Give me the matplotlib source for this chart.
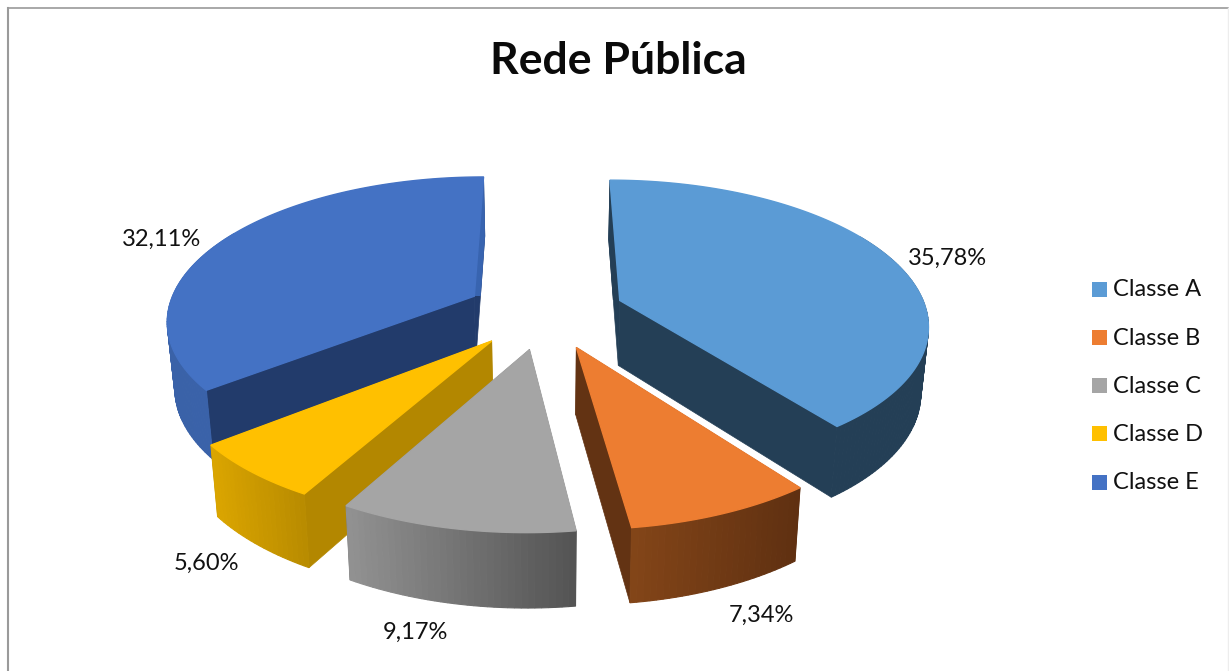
import numpy as np
import matplotlib as mpl
mpl.use('Agg')
import matplotlib.pyplot as plt
from matplotlib.colors import to_rgb
from matplotlib.patches import Rectangle

categories = ['Classe A', 'Classe B', 'Classe C', 'Classe D', 'Classe E']
values = [35.78, 7.34, 9.17, 5.60, 32.11]
value_labels = ['35,78%', '7,34%', '9,17%', '5,60%', '32,11%']
title = 'Rede Pública'

top_colors = ['#5B9BD5', '#ED7D31', '#A5A5A5', '#FFC000', '#4472C4']
wall_colors = ['#243F56', '#633313', '#5E5E5E', '#B38700', '#223B6B']
rim_left = ['#243F56', '#834518', '#929292', '#DBA500', '#3A62A8']
rim_right = ['#243F56', '#5F3011', '#535353', '#B88B00', '#3864B0']
label_pos = [(947, 258), (761, 615), (415, 632), (206, 563), (162, 239)]

# projection settings, in pixels
CX, CY = 545, 312
A, B = 307, 142
K = 0.153
EXPLODE = 0.26
THICK = 65.5


def project(x, z, down=0.0):
    s = 1 / (1 + K * z)
    px = CX + A * x * s
    py = CY - B * z * s
    # the lower face shrinks a little towards the middle
    return CX + (px - CX) * (1 - 0.02 * down), py + THICK * s ** 0.66 * down


def wedge_ring(start, end, mid, down=0.0):
    th = np.radians(np.linspace(start, end, max(int(end - start), 2)))
    m = np.radians(mid)
    return project(EXPLODE * np.sin(m) + np.sin(th), EXPLODE * np.cos(m) + np.cos(th), down)


def apex(mid, down=0.0):
    m = np.radians(mid)
    return project(EXPLODE * np.sin(m), EXPLODE * np.cos(m), down)


def mix(c1, c2, t):
    c1, c2 = np.array(to_rgb(c1)), np.array(to_rgb(c2))
    return tuple(c1 + (c2 - c1) * t)


def draw_slice(ax, i, start, end):
    mid = (start + end) / 2
    tx, ty = wedge_ring(start, end, mid)
    bx, by = wedge_ring(start, end, mid, 1.0)
    ax0, ay0 = apex(mid)
    ax1, ay1 = apex(mid, 1.0)

    # flat cut faces, the part behind the apex catches more light
    for j in (0, -1):
        qx, qy = [ax0, tx[j], bx[j], ax1], [ay0, ty[j], by[j], ay1]
        ax.fill(qx, qy, color=wall_colors[i], lw=0.5)
        back = ax.fill(qx, qy, color=rim_right[i], lw=0.5)[0]
        back.set_clip_path(Rectangle((0, 0), 1229, ay0, transform=ax.transData))

    # outer wall, one thin quad at a time so the shading runs left to right
    left, right = tx.min(), tx.max()
    for j in range(len(tx) - 1):
        if by[j] < ay0 and by[j + 1] < ay0:
            continue
        t = ((tx[j] + tx[j + 1]) / 2 - left) / (right - left)
        c = mix(rim_left[i], rim_right[i], t)
        ax.fill([tx[j], tx[j + 1], bx[j + 1], bx[j]],
                [ty[j], ty[j + 1], by[j + 1], by[j]], color=c, lw=0.8)

    ax.fill(np.r_[ax0, tx], np.r_[ay0, ty], color=top_colors[i], lw=1.0)


fig = plt.figure(figsize=(12.29, 6.71), dpi=100)
ax = fig.add_axes([0, 0, 1, 1])
ax.set_xlim(0, 1229)
ax.set_ylim(671, 0)
ax.axis('off')
plt.rcParams['font.family'] = ['Lato', 'DejaVu Sans']

# percentages are shown as printed, the angles use their share of the total
angles = np.array(values) / sum(values) * 360
edges = np.r_[0, np.cumsum(angles)]
for i in [4, 0, 3, 1, 2]:
    draw_slice(ax, i, edges[i], edges[i + 1])

ax.text(618, 61, title, fontsize=32, fontweight='bold', ha='center', va='center', color='#0A0A0A')

for txt, (x, y) in zip(value_labels, label_pos):
    ax.text(x, y, txt, fontsize=17, ha='center', va='center', color='#111111')

legend_y = np.linspace(289.5, 482, len(categories))
for name, col, y in zip(categories, top_colors, legend_y):
    ax.fill([1092, 1107, 1107, 1092], [y - 7.5, y - 7.5, y + 7.5, y + 7.5], color=col, lw=0)
    ax.text(1113, y + 0.5, name, fontsize=17, ha='left', va='center', color='#111111')

# chart frame
ax.plot([8, 8], [671, 8], color='#9A9A9A', lw=1.5)
ax.plot([8, 1228], [8, 8], color='#9A9A9A', lw=1.2)
ax.plot([1228, 1228], [8, 671], color='#EDEDED', lw=1)

fig.savefig('out.png', dpi=100)
